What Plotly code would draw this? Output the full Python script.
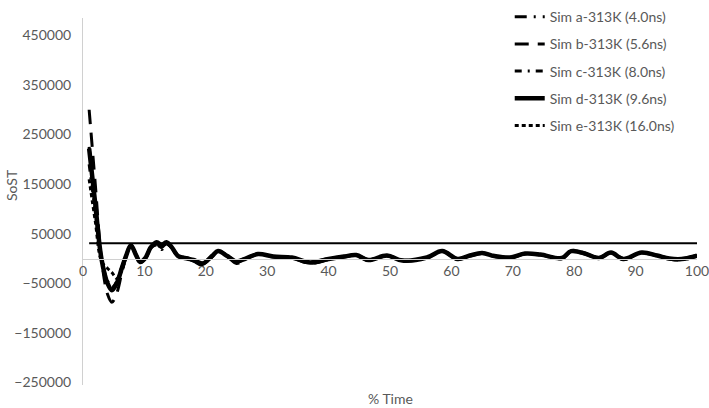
import plotly.graph_objects as go

# % time sample points
time_pct = [1, 2, 3, 4, 4.7, 5.5, 6.3, 7, 7.8, 8.6, 9.3, 10.2, 11, 12, 12.8, 13.6, 14.5,
            15.5, 17, 18, 19.5, 21, 22, 23.5, 25, 26.5, 28.5, 31, 34, 37, 40, 42.5, 44.5,
            46.5, 49.5, 52, 56, 58.5, 61, 63, 65, 67, 69.5, 72, 74.5, 78, 79.5, 82, 84,
            86, 88, 91, 93.5, 95.5, 97.5, 100]

sim_a = [225000, 112000, 0, -50000, -62000, -48000, -18000, 6000, 27000, 9000, -6000, 3000, 22000,
         30000, 20000, 30000, 22000, 5000, 0, -3000, -10000, 4000,
         14000, 5000, -6000, 0, 9000, 4000, 2000, -8000, -1000, 4000, 7000, -3000, 6000, -4000, 2000,
         15000, -1000, 6000, 11000, 5000, 2000, 10000, 8000, 1000, 15000, 9000, 1000, 12000, -1000, 12000, 6000,
         0, -2000, 6000]
sim_b = [300000, 150000, 0, -72000, -88000, -70000, -30000, 3000, 26000, 7000, -8000, 0, 20000,
         30000, 22000, 31000, 21000, 4000, -1000, -5000, -14000, 3000,
         15000, 4000, -10000, -1000, 8000, 3000, 1000, -10000, -2000, 3000, 6000, -4000, 5000, -5000, 1000,
         14000, -2000, 5000, 10000, 4000, 1000, 9000, 7000, 0, 14000, 8000, 0, 11000, -2000, 11000, 5000,
         -1000, -3000, 5000]
sim_c = [190000, 95000, 0, -45000, -58000, -46000, -18000, 6000, 28000, 10000, -5000, 3000, 21000,
         27000, 18000, 29000, 22000, 6000, 1000, -2000, -9000, 5000,
         15000, 6000, -5000, 1000, 9000, 5000, 2000, -7000, 0, 4000, 7000, -2000, 6000, -3000, 2000,
         15000, 0, 6000, 11000, 6000, 2000, 10000, 8000, 1000, 16000, 10000, 1000, 12000, 0, 12000, 6000,
         1000, 0, 6000]
sim_d = [222000, 110000, 0, -50000, -64000, -50000, -20000, 5000, 27000, 8000, -7000, 2000, 22000,
         33000, 27000, 33000, 22000, 5000, 0, -3000, -10000, 5000,
         15000, 5000, -6000, 0, 9000, 4000, 2000, -8000, -1000, 4000, 7000, -3000, 6000, -4000, 2000,
         15000, -1000, 6000, 11000, 5000, 2000, 10000, 8000, 1000, 15000, 9000, 1000, 12000, -1000, 12000, 6000,
         0, -1000, 6000]
sim_e = [160000, 75000, -5000, -20000, -28000, -40000, -25000, 3000, 26000, 9000, -6000, 2000, 22000,
         31000, 23000, 31000, 21000, 5000, 0, -3000, -11000, 4000,
         15000, 5000, -7000, 0, 9000, 4000, 2000, -8000, -1000, 4000, 7000, -3000, 6000, -4000, 2000,
         15000, -1000, 6000, 11000, 5000, 2000, 10000, 8000, 1000, 15000, 9000, 1000, 12000, -1000, 12000, 6000,
         0, -1000, 6000]
threshold = 31000

names = ["Sim a-313K (4.0ns)", "Sim b-313K (5.6ns)", "Sim c-313K (8.0ns)",
         "Sim d-313K (9.6ns)", "Sim e-313K (16.0ns)"]
series = [sim_a, sim_b, sim_c, sim_d, sim_e]
dashes = ["12px,7px,2px,7px,2px,7px", "14px,9px", "7px,6px,2px,6px", "solid", "4px,3px"]
widths = [3, 3, 3, 4.5, 3]

y_min, y_max = -255000, 485000
grey = "#595959"
axis_grey = "#d0d0d0"

fig = go.Figure()
for name, ys, dash, w in zip(names, series, dashes, widths):
    fig.add_trace(go.Scatter(
        x=time_pct, y=ys, name=name, mode="lines", legendgroup=name,
        line=dict(color="black", width=w, dash=dash, shape="spline", smoothing=1.0),
    ))

# flat reference line
fig.add_trace(go.Scatter(
    x=[time_pct[0], time_pct[-1]], y=[threshold, threshold], mode="lines",
    line=dict(color="black", width=2), showlegend=False, hoverinfo="skip",
))

fig.update_layout(
    width=709, height=408,
    margin=dict(l=83, r=12, t=18, b=23, autoexpand=False),
    plot_bgcolor="white", paper_bgcolor="white",
    font=dict(family="Lato", size=14, color=grey),
    legend=dict(x=0.695, y=1.046, xanchor="left", yanchor="top",
                bgcolor="rgba(0,0,0,0)", tracegroupgap=6,
                font=dict(size=14, color=grey)),
    xaxis=dict(range=[0, 100], tick0=0, dtick=10, showgrid=False, zeroline=False,
               showline=True, linecolor=axis_grey, linewidth=1, ticks="",
               automargin=False, anchor="free", ticklabeloverflow="allow",
               position=(0 - y_min) / (y_max - y_min)),
    yaxis=dict(range=[y_min, y_max], tick0=-250000, dtick=100000, showgrid=False,
               zeroline=False, showline=True, linecolor=axis_grey, linewidth=1,
               ticks="", tickformat="d", automargin=False, ticklabelstandoff=8),
    annotations=[
        dict(text="% Time", x=0.5, y=0, xref="paper", yref="paper",
             yanchor="top", yshift=-3, showarrow=False, font=dict(size=14, color=grey)),
        dict(text="SoST", x=(12 - 83) / 614, y=0.545, xref="paper", yref="paper",
             xanchor="center", yanchor="middle", textangle=-90, showarrow=False,
             font=dict(size=14, color=grey)),
    ],
)

fig.write_html("out.html", config={"displayModeBar": False},
               post_script="document.body.style.margin='0';")
